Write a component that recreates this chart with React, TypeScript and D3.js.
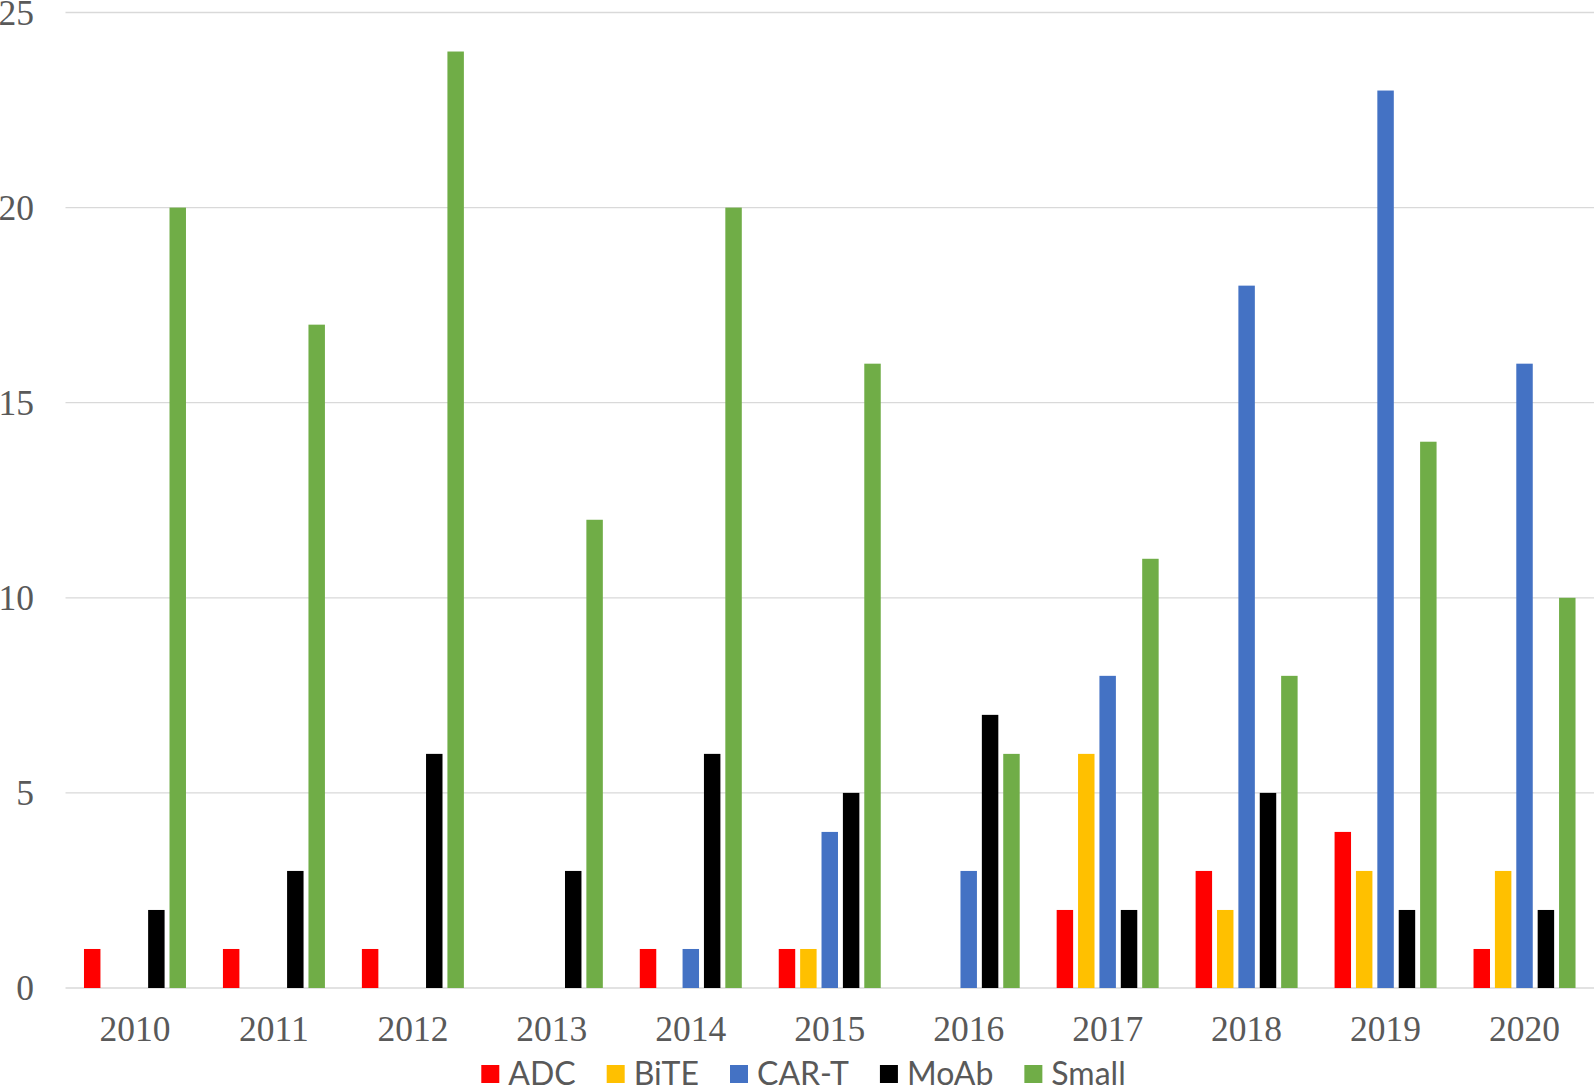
import { useEffect, useRef } from "react"
import * as d3 from "d3"

const years = ["2010", "2011", "2012", "2013", "2014", "2015", "2016", "2017", "2018", "2019", "2020"]
const seriesNames = ["ADC", "BiTE", "CAR-T", "MoAb", "Small"]
const adc = [1, 1, 1, 0, 1, 1, 0, 2, 3, 4, 1]
const bite = [0, 0, 0, 0, 0, 1, 0, 6, 2, 3, 3]
const cart = [0, 0, 0, 0, 1, 4, 3, 8, 18, 23, 16]
const moab = [2, 3, 6, 3, 6, 5, 7, 2, 5, 2, 2]
const small = [20, 17, 24, 12, 20, 16, 6, 11, 8, 14, 10]
const yTicks = [0, 5, 10, 15, 20, 25]
const colors = ["#FF0000", "#FFC000", "#4472C4", "#000000", "#70AD47"]

const seriesValues = [adc, bite, cart, moab, small]

function App() {
  const width = 1594
  const height = 1088
  const svgRef = useRef<SVGSVGElement>(null)

  useEffect(() => {
    const svg = d3.select(svgRef.current)
    svg.selectAll("*").remove()

    const left = 65.5
    const right = width
    const top = 12.5
    const bottom = 988

    const x = d3.scaleBand().domain(years).range([left, right]).paddingInner(0).paddingOuter(0)
    const bw = x.bandwidth()
    const xInner = d3.scaleBand()
      .domain(seriesNames)
      .range([bw * 0.133, bw * 0.867])
      .paddingInner(0.23)
      .paddingOuter(0)
    const y = d3.scaleLinear().domain([0, 25]).range([bottom, top])

    // grid
    svg.append("g")
      .selectAll("line")
      .data(yTicks)
      .join("line")
      .attr("x1", left)
      .attr("x2", right)
      .attr("y1", d => y(d))
      .attr("y2", d => y(d))
      .attr("stroke", "#d9d9d9")
      .attr("stroke-width", 1.3)

    // y labels
    svg.append("g")
      .selectAll("text")
      .data(yTicks)
      .join("text")
      .attr("x", 34)
      .attr("y", d => y(d) + 12)
      .attr("text-anchor", "end")
      .attr("font-family", "'Liberation Serif', 'Times New Roman', serif")
      .attr("font-size", 35.5)
      .attr("fill", "#595959")
      .text(d => d)

    // bars
    const groups = svg.append("g")
      .selectAll("g")
      .data(years)
      .join("g")
      .attr("transform", d => `translate(${x(d)},0)`)

    groups.selectAll("rect")
      .data((yr, i) => seriesNames.map((s, k) => ({ s, k, v: seriesValues[k][i] })))
      .join("rect")
      .filter(d => d.v > 0)
      .attr("x", d => xInner(d.s)!)
      .attr("width", xInner.bandwidth())
      .attr("y", d => y(d.v))
      .attr("height", d => bottom - y(d.v))
      .attr("fill", d => colors[d.k])

    // x labels
    svg.append("g")
      .selectAll("text")
      .data(years)
      .join("text")
      .attr("x", d => x(d)! + bw / 2)
      .attr("y", 1041)
      .attr("text-anchor", "middle")
      .attr("font-family", "'Liberation Serif', 'Times New Roman', serif")
      .attr("font-size", 35.5)
      .attr("fill", "#595959")
      .text(d => d)

    // legend
    const legend = svg.append("g")
    const items = legend.selectAll("g")
      .data(seriesNames)
      .join("g")
    items.append("rect")
      .attr("width", 18)
      .attr("height", 18)
      .attr("y", -9)
      .attr("fill", (d, i) => colors[i])
    items.append("text")
      .attr("x", 27)
      .attr("y", 11)
      .attr("font-family", "Lato, 'Open Sans', sans-serif")
      .attr("font-size", 32)
      .attr("fill", "#595959")
      .text(d => d)
    let cx = 0
    items.each(function () {
      const g = d3.select(this)
      g.attr("transform", `translate(${cx},1074)`)
      const tw = (g.select("text").node() as SVGTextElement).getComputedTextLength()
      cx += 27 + tw + 31
    })
    const total = cx - 31
    legend.attr("transform", `translate(${(484 + 1123) / 2 - total / 2},0)`)
  }, [])

  return (
    <svg
      ref={svgRef}
      width={width}
      height={height}
      style={{ position: "absolute", left: 0, top: 0, background: "#fff" }}
    />
  )
}

export default App
